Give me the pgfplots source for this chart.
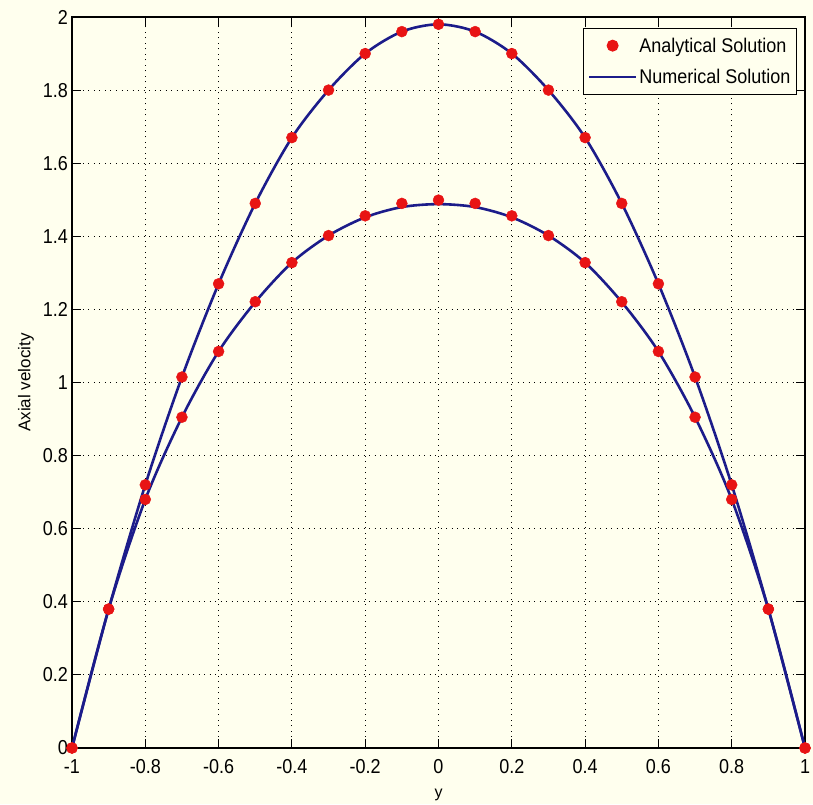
\documentclass[border=0pt]{standalone}
\usepackage{fontspec}
\setmainfont{Liberation Sans}
\usepackage{pgfplots}
\pgfplotsset{compat=1.18}
\definecolor{bg}{RGB}{255,255,238}
\definecolor{navy}{RGB}{28,28,138}
\definecolor{mred}{RGB}{232,20,20}
\begin{document}
\begin{tikzpicture}
\fill[bg] (-72pt,-56pt) rectangle (741pt,748pt);
\begin{axis}[at={(0,0)}, anchor=south west, scale only axis,
  width=733pt, height=731pt,
  xmin=-1, xmax=1, ymin=0, ymax=2,
  xtick={-1,-0.8,-0.6,-0.4,-0.2,0,0.2,0.4,0.6,0.8,1},
  ytick={0,0.2,0.4,0.6,0.8,1,1.2,1.4,1.6,1.8,2},
  grid=major,
  major grid style={black, line width=0.9pt, dash pattern=on 1pt off 4.5pt},
  tick align=inside, major tick length=9pt,
  every tick/.style={black, line width=1.1pt},
  axis line style={black, line width=1.2pt},
  /pgf/number format/assume math mode=true,
  ticklabel style={font=\fontsize{18}{20}\selectfont, yscale=1.12},
  yticklabel style={inner sep=0pt, xshift=-4pt},
  xticklabel style={inner sep=0pt, yshift=-10pt},
  xlabel={y}, ylabel={Axial velocity},
  xlabel style={font=\fontsize{16}{17}\selectfont, at={(axis description cs:0.5,-0.064)}, anchor=center},
  ylabel style={font=\fontsize{17}{18}\selectfont, at={(axis description cs:-0.0628,0.5)}, anchor=center},
  legend cell align=left,
  legend style={at={(axis description cs:0.989,0.985)}, anchor=north east,
    draw=black, line width=1pt, fill=bg,
    font=\fontsize{18}{19}\selectfont,
    inner xsep=4pt, inner ysep=7pt, row sep=11pt,
    nodes={inner sep=2pt, yscale=1.1}},
]
\addlegendimage{legend image code/.code={\fill[mred] (23.5pt,0pt) circle (5.5pt);}}
\addlegendentry{Analytical Solution}
\addlegendimage{legend image code/.code={\draw[navy, line width=2.5pt] (0pt,0pt) -- (47pt,0pt);}}
\addlegendentry{Numerical Solution}

% Numerical solution (lines)
\addplot[navy, line width=2.6pt, smooth, forget plot] coordinates {
(-1,0) (-0.9,0.38) (-0.8,0.72) (-0.7,1.015) (-0.6,1.27) (-0.5,1.49) (-0.4,1.67) (-0.3,1.80) (-0.2,1.90) (-0.1,1.96) (0,1.98)
(0.1,1.96) (0.2,1.90) (0.3,1.80) (0.4,1.67) (0.5,1.49) (0.6,1.27) (0.7,1.015) (0.8,0.72) (0.9,0.38) (1,0)};
\addplot[navy, line width=2.6pt, smooth, forget plot] coordinates {
(-1,0) (-0.9,0.38) (-0.8,0.68) (-0.7,0.905) (-0.6,1.085) (-0.5,1.22) (-0.4,1.328) (-0.3,1.402) (-0.2,1.452) (-0.1,1.48) (0,1.488)
(0.1,1.48) (0.2,1.452) (0.3,1.402) (0.4,1.328) (0.5,1.22) (0.6,1.085) (0.7,0.905) (0.8,0.68) (0.9,0.38) (1,0)};
% Analytical solution (markers)
\addplot[only marks, mark=*, mark size=5.5pt, mred, forget plot] coordinates {
(-1,0) (-0.9,0.38) (-0.8,0.72) (-0.7,1.015) (-0.6,1.27) (-0.5,1.49) (-0.4,1.67) (-0.3,1.80) (-0.2,1.90) (-0.1,1.96) (0,1.98)
(0.1,1.96) (0.2,1.90) (0.3,1.80) (0.4,1.67) (0.5,1.49) (0.6,1.27) (0.7,1.015) (0.8,0.72) (0.9,0.38) (1,0)};
\addplot[only marks, mark=*, mark size=5.5pt, mred, forget plot] coordinates {
(-1,0) (-0.9,0.38) (-0.8,0.68) (-0.7,0.905) (-0.6,1.085) (-0.5,1.221) (-0.4,1.328) (-0.3,1.402) (-0.2,1.456) (-0.1,1.49) (0,1.499)
(0.1,1.49) (0.2,1.456) (0.3,1.402) (0.4,1.328) (0.5,1.221) (0.6,1.085) (0.7,0.905) (0.8,0.68) (0.9,0.38) (1,0)};
\end{axis}
\end{tikzpicture}
\end{document}
